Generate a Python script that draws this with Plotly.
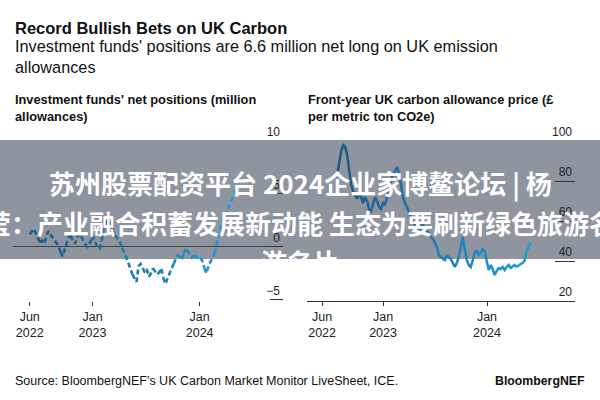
import pandas as pd
import plotly.graph_objects as go

# Investment funds' net positions, million allowances (weekly, from Jun 2022)
pos_start = "2022-06-01"
pos_values = [1.2, 1.5, 1.7, 1.3, 0.8, 0.4, 0.6, 0.3, 1.0, 1.5,
              1.2, 0.9, 0.7, 0.4, 0.1, -0.5, -0.9, -0.2, 0.3, 0.9,
              1.1, 0.6, 0.3, 0.9, 1.3, 1.0, 0.6, 0.3, 0.0, 0.2,
              0.7, 0.9, 0.4, 0.0, -0.2, 0.6, 1.8, 2.2, 2.5, 2.3,
              1.8, 1.2, 1.0, 0.7, 0.4, -0.1, -0.5, -1.0, -1.5, -2.1,
              -2.6, -3.0, -3.3, -1.8, -1.6, -2.0, -2.4, -2.1, -2.8, -2.5,
              -2.0, -2.3, -2.6, -2.4, -2.0, -2.9, -3.5, -3.0, -2.5, -2.0,
              -1.6, -1.2, -0.8, -0.9, -1.2, -0.6, -0.1, -0.4, -0.7, -1.0,
              -0.8, -0.9, -1.1, -1.0, -1.3, -2.0, -2.5, -1.8, -1.4, -0.9,
              -0.6, 0.2, 1.2, 1.9, 2.4, 2.9, 3.5, 3.9, 4.3, 4.8,
              5.3, 5.8, 6.1, 6.4, 6.6]

# Front-year UK carbon allowance price, GBP per ton (weekly, from late Jul 2022)
price_start = "2022-07-24"
price_values = [83, 90, 95, 98, 97, 93, 85, 78, 75, 73,
                71, 74, 72, 69, 72, 70, 66, 65, 69, 72,
                70, 67, 66, 69, 68, 72, 77, 81, 83, 85,
                87, 84, 78, 72, 69, 67, 64, 62, 60, 58,
                56, 54, 57, 59, 54, 55, 54, 52, 51, 49,
                47, 43, 42, 41, 40.5, 43, 42, 41, 39, 37,
                39, 42, 47, 52, 46, 40.5, 38, 37, 41, 44,
                45.5, 43, 44, 46, 45, 40, 35.5, 38, 36, 33,
                35, 36.5, 36, 37, 35.5, 37, 38, 36.5, 37.5, 38,
                37, 38, 38.5, 39, 40, 45, 47, 49]

tick_dates = ["2022-06-01", "2023-01-01", "2024-01-01"]
tick_text = ["Jun<br>2022", "Jan<br>2023", "Jan<br>2024"]

pos_dates = pd.date_range(pos_start, periods=len(pos_values), freq="7D")
price_dates = pd.date_range(price_start, periods=len(price_values), freq="7D")

FONT = "Liberation Sans, Arial, sans-serif"
DARK = (29, 88, 130)
LIGHT = (30, 158, 222)


def mix(f):
    r, g, b = [round(a + (c - a) * f) for a, c in zip(DARK, LIGHT)]
    return f"rgb({r},{g},{b})"


def add_gradient_line(fig, dates, values, xa, ya, dash, width, step=5):
    n = len(values)
    for s in range(0, n - 1, step):
        e = min(s + step, n - 1)
        frac = (s + e) / 2 / (n - 1)
        fig.add_trace(go.Scatter(
            x=dates[s:e + 1], y=values[s:e + 1], mode="lines",
            line=dict(color=mix(frac), width=width, dash=dash),
            xaxis=xa, yaxis=ya, showlegend=False, hoverinfo="skip"))


fig = go.Figure()
add_gradient_line(fig, pos_dates, pos_values, "x", "y", "5px,3px", 2.6)
add_gradient_line(fig, price_dates, price_values, "x2", "y2", "solid", 2.5)

ydom = [1 - 301 / 400, 1 - 141 / 400]
common_x = dict(tickvals=tick_dates, ticktext=tick_text, ticks="outside", ticklen=4,
                tickcolor="#333", showgrid=False, zeroline=False, automargin=False,
                tickfont=dict(family=FONT, size=12.5, color="#222"))
common_y = dict(side="right", ticks="inside", tickcolor="#333", tickwidth=1,
                ticklabelposition="inside top", ticklabeloverflow="allow",
                showgrid=False, automargin=False,
                tickfont=dict(family=FONT, size=12, color="#222"))

fig.update_layout(
    width=600, height=400,
    margin=dict(l=0, r=0, t=0, b=0, pad=0, autoexpand=False),
    paper_bgcolor="white", plot_bgcolor="rgba(0,0,0,0)",
    font=dict(family=FONT, color="#111"),
    xaxis=dict(domain=[13 / 600, 283 / 600], anchor="y",
               range=["2022-04-05", "2024-10-11"], showline=False, **common_x),
    yaxis=dict(domain=ydom, anchor="x", range=[-5.1, 10], tickvals=[-5, 0, 5, 10],
               ticklen=13, zeroline=True, zerolinecolor="#444", zerolinewidth=1,
               **common_y),
    xaxis2=dict(domain=[307 / 600, 575 / 600], anchor="y2",
                range=["2022-04-09", "2024-11-05"], showline=True, linecolor="#333",
                linewidth=1, **common_x),
    yaxis2=dict(domain=ydom, anchor="x2", range=[20, 100], tickvals=[20, 40, 60, 80, 100],
                ticklen=20, zeroline=False, **common_y),
)

def py(px):
    return 1 - px / 400

ann = [
    dict(text="<b>Record Bullish Bets on UK Carbon</b>", x=13 / 600, y=py(28),
         font=dict(size=16.5)),
    dict(text="Investment funds' positions are 6.6 million net long on UK emission<br>allowances",
         x=13 / 600, y=py(56), font=dict(size=16.3)),
    dict(text="<b>Investment funds' net positions (million<br>allowances)</b>",
         x=13 / 600, y=py(108), font=dict(size=12.8)),
    dict(text="<b>Front-year UK carbon allowance price (£<br>per metric ton CO2e)</b>",
         x=306 / 600, y=py(108), font=dict(size=12.8)),
    dict(text="Source: BloombergNEF's UK Carbon Market Monitor LiveSheet, ICE.",
         x=13 / 600, y=py(381), font=dict(size=12.5)),
    dict(text="<b>BloombergNEF</b>", x=587 / 600, y=py(381), xanchor="right",
         font=dict(size=12.3)),
]
for a in ann:
    a.setdefault("xanchor", "left")
    fig.add_annotation(xref="paper", yref="paper", yanchor="middle", showarrow=False,
                       align="left", **a)

# grey banner overlay with headline text
fig.add_shape(type="rect", xref="paper", yref="paper", x0=0, x1=1,
              y0=py(259), y1=py(140), fillcolor="#8f959f", line_width=0, layer="below")
banner = ["苏州股票配资平台 2024企业家博鳌论坛 | 杨",
          "莹：产业融合积蓄发展新动能 生态为要刷新绿色旅游名",
          "游名片"]
for txt, ypx in zip(banner, [183, 222, 261]):
    fig.add_annotation(text=f"<b>{txt}</b>", xref="paper", yref="paper", x=0.5, y=py(ypx),
                       xanchor="center", yanchor="middle", showarrow=False,
                       font=dict(family="Noto Sans CJK SC", size=26, color="white"))

# drop the default page margin so the figure sits at the window corner
fig.write_html("out.html", config={"displayModeBar": False},
               post_script="document.body.style.margin='0';")
